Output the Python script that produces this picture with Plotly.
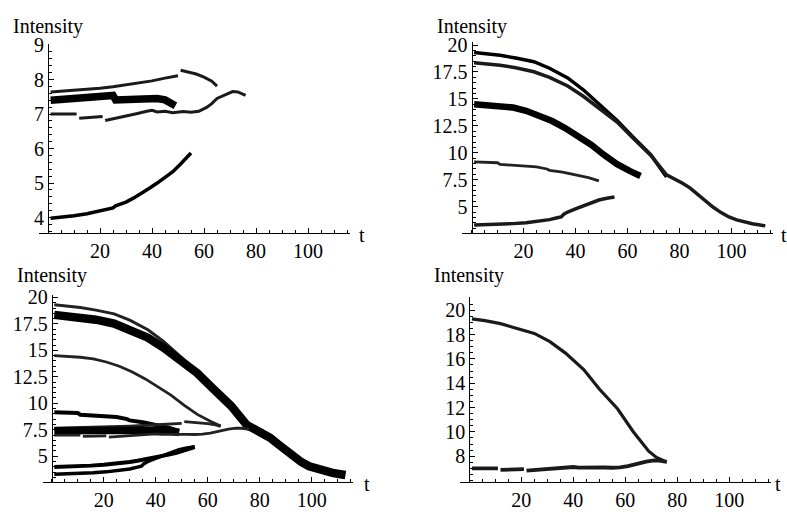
import plotly.graph_objects as go

W, H = 787, 512

# ---------------- data (t = time step, values = Intensity) ----------------
# series A (top-left upper line, with a jump near t=50)
a_t = [1, 5, 10, 15, 20, 25, 30, 35, 40, 45, 50, None, 51, 54, 57, 60, 63, 65]
a_v = [7.64, 7.66, 7.68, 7.71, 7.75, 7.79, 7.84, 7.90, 7.96, 8.04, 8.11, None,
       8.27, 8.22, 8.16, 8.07, 7.95, 7.81]
# series B (thick band ~7.45)
b_t = [1, 5, 10, 15, 20, 25, 26, 30, 34, 38, 42, 45, 47, 49]
b_v = [7.40, 7.42, 7.45, 7.48, 7.51, 7.54, 7.41, 7.43, 7.46, 7.48, 7.45, 7.41, 7.34, 7.24]
# series C (~7.0, broken at the start)
c_t = [1, 11, None, 12, 21, None, 22, 26, 30, 34, 38, 40, 42, 45, 48, 52, 55, 58,
       61, 63, 65, 68, 71, 73, 76]
c_v = [7.00, 7.00, None, 6.88, 6.93, None, 6.81, 6.87, 6.94, 7.01, 7.08, 7.11, 7.06,
       7.08, 7.04, 7.07, 7.05, 7.08, 7.19, 7.30, 7.45, 7.56, 7.65, 7.64, 7.54]
# series D (starting ~4.0)
d_t = [1, 5, 10, 15, 20, 25, 26, 30, 33, 36, 39, 42, 45, 48, 51, 55]
d_v = [3.98, 4.00, 4.05, 4.11, 4.19, 4.28, 4.34, 4.45, 4.57, 4.70, 4.85, 5.00,
       5.15, 5.33, 5.55, 5.87]
# series S1 (starting ~19.3)
s1_t = [1, 6, 11, 17, 24, 30, 37, 43, 49, 56, 62, 69, 75]
s1_v = [19.30, 19.20, 19.05, 18.80, 18.45, 17.85, 16.95, 15.85, 14.55, 13.00,
        11.50, 9.80, 7.75]
# series S2 (starting ~18.35, long tail to t=113)
s2_t = [1, 6, 11, 17, 24, 30, 37, 43, 49, 56, 62, 69, 75, 78, 81, 84, 87, 90, 93,
        96, 99, 102, 105, 108, 111, 113]
s2_v = [18.35, 18.27, 18.13, 17.90, 17.52, 17.00, 16.20, 15.25, 14.10, 12.85,
        11.40, 9.75, 7.95, 7.60, 7.20, 6.75, 6.15, 5.50, 4.95, 4.45, 4.05, 3.78,
        3.58, 3.42, 3.30, 3.22]
# series S3 (starting ~14.5)
s3_t = [1, 6, 11, 16, 21, 26, 31, 36, 41, 46, 51, 56, 61, 65]
s3_v = [14.50, 14.45, 14.35, 14.20, 13.90, 13.50, 12.95, 12.30, 11.55, 10.75,
        9.80, 8.95, 8.30, 7.85]
# series S4 (starting ~9.1)
s4_t = [1, 10, 11, 20, 25, 29, 30, 35, 40, 45, 49]
s4_v = [9.15, 9.08, 8.92, 8.80, 8.70, 8.50, 8.38, 8.20, 7.98, 7.70, 7.40]
# series S5 (starting ~3.3)
s5_t = [1, 6, 11, 16, 21, 26, 30, 33, 34.5, 35.5, 37, 40, 43, 46, 49, 52, 55]
s5_v = [3.30, 3.33, 3.36, 3.43, 3.52, 3.64, 3.80, 3.97, 4.05, 4.30, 4.50, 4.80,
        5.10, 5.38, 5.62, 5.78, 5.90]
# bottom-right upper series
br_t = [1, 6, 12, 18, 25, 31, 37, 44, 50, 57, 63, 69, 72, 75]
br_v = [19.30, 19.15, 18.90, 18.55, 18.10, 17.42, 16.48, 15.13, 13.52, 11.90,
        10.03, 8.41, 7.90, 7.60]

x_ticks = [20, 40, 60, 80, 100]
tl_yticks = [4, 5, 6, 7, 8, 9]
mid_yticks = [5, 7.5, 10, 12.5, 15, 17.5, 20]
br_yticks = [8, 10, 12, 14, 16, 18, 20]

# ---------------- layout helpers ----------------
FONT = "Liberation Serif"
SCALE = 2.6          # px per t unit
XR = [-3.5, 116]


def px(x):
    return x / W


def py(y):
    return 1 - y / H


panels = [
    dict(n=1, yx=48, top=35, bot=227, yr=[3.565, 9.02], yt=tl_yticks, ym=0.2, tx=362),
    dict(n=2, yx=471.5, top=33, bot=227, yr=[2.6, 20.25], yt=mid_yticks, ym=0.5, tx=784),
    dict(n=3, yx=51.7, top=291, bot=481, yr=[2.6, 20.2], yt=mid_yticks, ym=0.5, tx=367),
    dict(n=4, yx=469.3, top=293, bot=481, yr=[5.91, 21.07], yt=br_yticks, ym=0.5, tx=778),
]

fig = go.Figure()
layout = dict(
    width=W, height=H, margin=dict(l=0, r=0, t=0, b=0, pad=0),
    paper_bgcolor="white", plot_bgcolor="white", showlegend=False,
    font=dict(family=FONT, size=20, color="black"),
)
annotations = []

for p in panels:
    n = p["n"]
    xs = "" if n == 1 else str(n)
    x0 = p["yx"] + XR[0] * SCALE
    x1 = p["yx"] + XR[1] * SCALE
    layout["xaxis" + xs] = dict(
        domain=[px(x0), px(x1)], range=XR, anchor="y" + xs,
        showline=True, linecolor="black", linewidth=1, showgrid=False, zeroline=False,
        ticks="inside", ticklen=5, tickcolor="black", tickwidth=1,
        tickvals=x_ticks, ticktext=[str(v) for v in x_ticks],
        tickfont=dict(family=FONT, size=20, color="black"),
        minor=dict(dtick=5, tick0=0, ticks="inside", ticklen=3, tickcolor="black", showgrid=False),
    )
    ytxt = [("%g" % v) for v in p["yt"]]
    layout["yaxis" + xs] = dict(
        domain=[py(p["bot"]), py(p["top"])], range=p["yr"], anchor="free",
        position=px(p["yx"]),
        showline=True, linecolor="black", linewidth=1, showgrid=False, zeroline=False,
        ticks="inside", ticklen=5, tickcolor="black", tickwidth=1,
        tickvals=p["yt"], ticktext=ytxt,
        tickfont=dict(family=FONT, size=20, color="black"),
        minor=dict(dtick=p["ym"], tick0=0, ticks="inside", ticklen=3, tickcolor="black", showgrid=False),
    )
    top_label_y = 17 if n <= 2 else 271
    annotations.append(dict(
        text="Intensity", x=px(p["yx"]), y=py(top_label_y), xref="paper", yref="paper",
        xanchor="center", yanchor="middle", showarrow=False,
        font=dict(family=FONT, size=20, color="black")))
    annotations.append(dict(
        text="t", x=px(p["tx"]), y=py(p["bot"] + 2), xref="paper", yref="paper",
        xanchor="center", yanchor="middle", showarrow=False,
        font=dict(family=FONT, size=20, color="black")))

layout["annotations"] = annotations
fig.update_layout(**layout)


def add(t, v, n, width, color="black"):
    xs = "" if n == 1 else str(n)
    fig.add_trace(go.Scatter(
        x=t, y=v, mode="lines", xaxis="x" + xs, yaxis="y" + xs,
        line=dict(color=color, width=width), connectgaps=False,
        hoverinfo="skip", showlegend=False, cliponaxis=False))


# top-left
add(a_t, a_v, 1, 3, "#1a1a1a")
add(b_t, b_v, 1, 7.5)
add(c_t, c_v, 1, 3, "#1a1a1a")
add(d_t, d_v, 1, 3.5)
# top-right
add(s1_t, s1_v, 2, 3.5)
add(s2_t, s2_v, 2, 3.5, "#1a1a1a")
add(s3_t, s3_v, 2, 6.5)
add(s4_t, s4_v, 2, 2.8, "#222")
add(s5_t, s5_v, 2, 3.5, "#1a1a1a")
# bottom-left (all series)
add(s1_t, s1_v, 3, 3, "#222")
add(s2_t, s2_v, 3, 8.5)
add(s3_t, s3_v, 3, 2.8, "#222")
add(s4_t, s4_v, 3, 4)
add(a_t, a_v, 3, 2.8, "#222")
add(b_t, b_v, 3, 7.5)
add(c_t, c_v, 3, 2.8, "#222")
add(d_t, d_v, 3, 4)
add(s5_t, s5_v, 3, 3.5)
# bottom-right
add(br_t, br_v, 4, 3.2, "#1a1a1a")
add(c_t, c_v, 4, 3.8, "#1a1a1a")

fig.write_html("out.html", config={"displayModeBar": False},
               post_script="document.body.style.margin='0';")
